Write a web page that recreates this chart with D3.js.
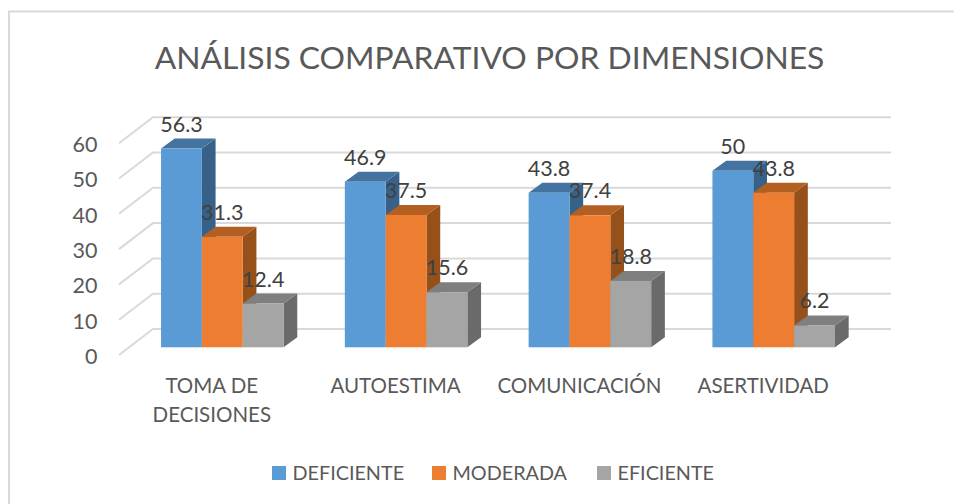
<!DOCTYPE html>
<html>
<head>
<meta charset="utf-8">
<script src="https://d3js.org/d3.v7.min.js"></script>
<style>
	html, body { margin: 0; padding: 0; background: #fff; }
	svg { display: block; }
	text { font-family: "Lato", sans-serif; }
</style>
</head>
<body>
<svg class="chart" width="954" height="504"></svg>
<script>
// chart data
var title = "ANÁLISIS COMPARATIVO POR DIMENSIONES";
var categories = ["TOMA DE DECISIONES", "AUTOESTIMA", "COMUNICACIÓN", "ASERTIVIDAD"];
var seriesNames = ["DEFICIENTE", "MODERADA", "EFICIENTE"];
var deficiente = [56.3, 46.9, 43.8, 50];
var moderada = [31.3, 37.5, 37.4, 43.8];
var eficiente = [12.4, 15.6, 18.8, 6.2];
var yTicks = [0, 10, 20, 30, 40, 50, 60];

var seriesValues = [deficiente, moderada, eficiente];

// front face, top face and side face colour per series
var colors = [
	{front: "#5b9bd5", top: "#44739f", side: "#376188"},
	{front: "#ed7d31", top: "#b45f22", side: "#96511b"},
	{front: "#a5a5a5", top: "#7f7f7f", side: "#6a6a6a"}
];

var svg = d3.select(".chart");

// the depth of the 3d box
var depthX = 13.7,
	depthY = 10;

// front plane of the bars, the back wall is shifted from it
var y = d3.scaleLinear().domain([0, 60]).range([347.3, 135.5]);
var yBack = d3.scaleLinear().domain([0, 60]).range([329, 117.2]);
var yWall = d3.scaleLinear().domain([0, 60]).range([355, 143.2]);
var yLabel = d3.scaleLinear().domain([0, 60]).range([356.5, 144.7]);

var x0 = d3.scaleBand()
	.domain(categories)
	.range([130.4, 865.6])
	.paddingInner(1 / 3)
	.paddingOuter(1 / 6);
var x1 = d3.scaleBand()
	.domain(d3.range(seriesNames.length))
	.range([0, x0.bandwidth()]);

// chart frame, only top and left are visible
svg.append("path")
	.attr("d", "M9,504V11.5H954")
	.attr("fill", "none")
	.attr("stroke", "#d9d9d9")
	.attr("stroke-width", 2);

svg.append("text")
	.attr("x", 489.5)
	.attr("y", 68.5)
	.attr("text-anchor", "middle")
	.attr("font-size", 31.8)
	.attr("fill", "#595959")
	.text(title);

// gridlines on the back wall and on the left wall
var grid = svg.append("g")
	.attr("fill", "none")
	.attr("stroke", "#d9d9d9")
	.attr("stroke-width", 2);
grid.selectAll("path")
	.data(yTicks)
	.enter().append("path")
	.attr("d", function(d) {
		return "M119," + yWall(d) + "L153," + yBack(d) + "H891";
	});

// y axis labels
var yAxis = d3.axisLeft(yLabel)
	.tickValues(yTicks)
	.tickSize(0)
	.tickPadding(0);
var yAxisG = svg.append("g")
	.attr("transform", "translate(97.5,0)")
	.call(yAxis);
yAxisG.select(".domain").remove();
yAxisG.selectAll("text")
	.attr("font-size", 21.5)
	.attr("font-family", "Lato, sans-serif")
	.attr("fill", "#595959");

// one 3d bar per value
var groups = svg.selectAll(".group")
	.data(categories)
	.enter().append("g")
	.attr("class", "group")
	.attr("transform", function(d) { return "translate(" + x0(d) + ",0)"; });

groups.each(function(cat, c) {
	var g = d3.select(this);
	seriesValues.forEach(function(values, s) {
		var left = x1(s),
			right = left + x1.bandwidth(),
			top = y(values[c]),
			base = y(0);

		g.append("path")
			.attr("fill", colors[s].side)
			.attr("d", "M" + right + "," + top + "l" + depthX + "," + -depthY +
				"V" + (base - depthY) + "L" + right + "," + base + "Z");
		g.append("path")
			.attr("fill", colors[s].top)
			.attr("d", "M" + left + "," + top + "l" + depthX + "," + -depthY +
				"H" + (right + depthX) + "L" + right + "," + top + "Z");
		g.append("rect")
			.attr("x", left)
			.attr("y", top)
			.attr("width", x1.bandwidth())
			.attr("height", base - top)
			.attr("fill", colors[s].front);
	});
});

// value labels go over all the bars
groups.each(function(cat, c) {
	var g = d3.select(this);
	seriesValues.forEach(function(values, s) {
		g.append("text")
			.attr("x", x1(s) + x1.bandwidth() / 2)
			.attr("y", y(values[c]) - 17)
			.attr("text-anchor", "middle")
			.attr("font-size", 21.5)
			.attr("fill", "#404040")
			.text(values[c]);
	});
});

// category labels, the first one takes two lines
var catLabels = svg.selectAll(".cat")
	.data(categories)
	.enter().append("text")
	.attr("class", "cat")
	.attr("text-anchor", "middle")
	.attr("font-size", 20.5)
	.attr("fill", "#595959");
catLabels.each(function(d) {
	var lines = d == "TOMA DE DECISIONES" ? ["TOMA DE", "DECISIONES"] : [d];
	var cx = x0(d) + x0.bandwidth() / 2 - 10.5;
	d3.select(this).selectAll("tspan")
		.data(lines)
		.enter().append("tspan")
		.attr("x", cx)
		.attr("y", function(l, i) { return 393 + i * 28.5; })
		.text(function(l) { return l; });
});

// legend
var legendX = [272, 432, 597];
var legend = svg.selectAll(".legend")
	.data(seriesNames)
	.enter().append("g")
	.attr("class", "legend")
	.attr("transform", function(d, i) { return "translate(" + legendX[i] + ",466)"; });
legend.append("rect")
	.attr("width", 14)
	.attr("height", 14)
	.attr("fill", function(d, i) { return colors[i].front; });
legend.append("text")
	.attr("x", 20.5)
	.attr("y", 14)
	.attr("font-size", 19.8)
	.attr("fill", "#595959")
	.text(function(d) { return d; });
</script>
</body>
</html>
